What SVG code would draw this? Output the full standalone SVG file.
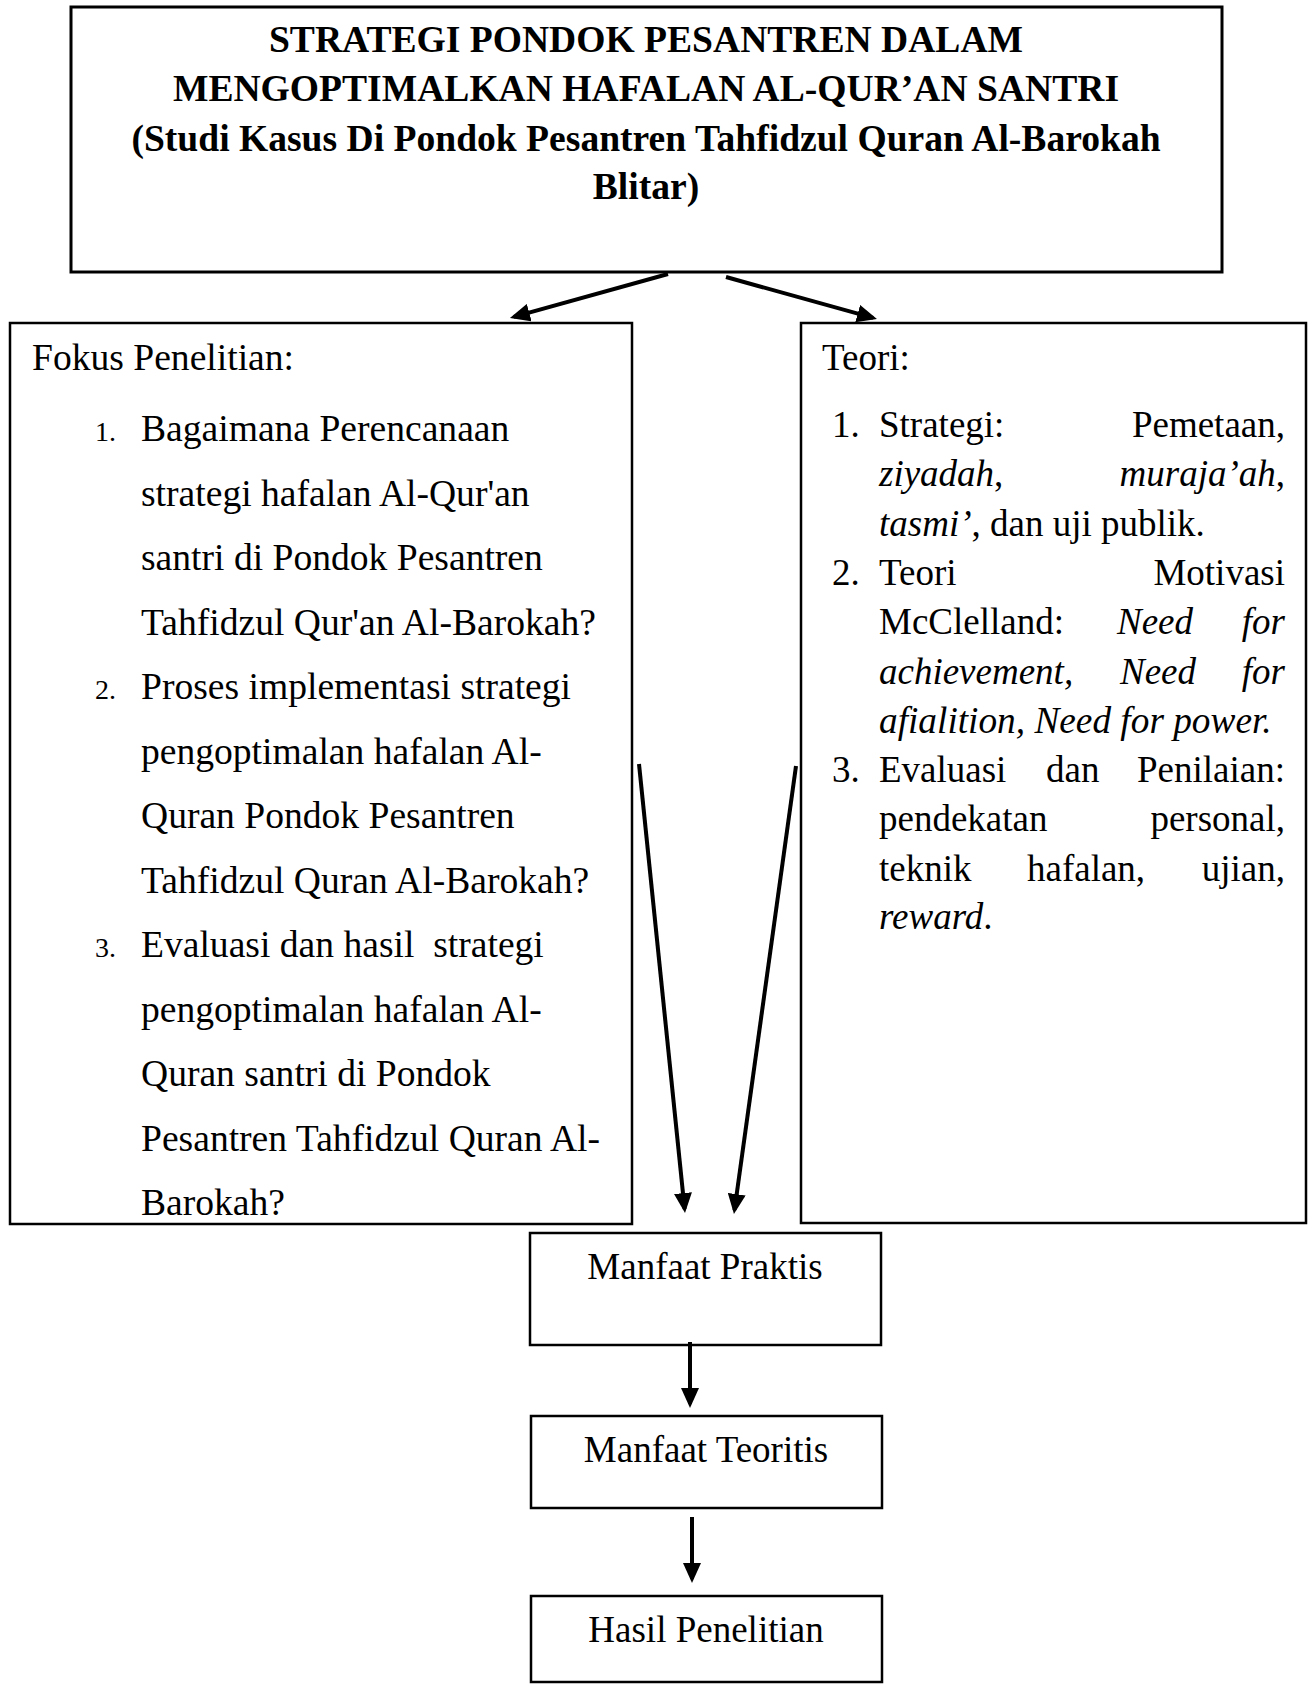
<svg xmlns="http://www.w3.org/2000/svg" width="1308" height="1686" viewBox="0 0 1308 1686">
<style>
.box{fill:#fff;stroke:#000;stroke-width:2.5}
.t{font-family:"Liberation Serif","Times New Roman",serif;font-size:37px;fill:#000}
.L{font-size:37.6px}
.b{font-weight:bold;font-size:37.6px}
.n{font-size:28px}
.i{font-style:italic}
.c{text-anchor:middle}
.e{text-anchor:end}
.con{stroke:#000;stroke-width:4;fill:none;marker-end:url(#ah)}
</style>
<defs>
<marker id="ah" markerUnits="userSpaceOnUse" viewBox="0 0 20 18" refX="16" refY="9" markerWidth="20" markerHeight="18" orient="auto">
<path d="M0,0 L20,9 L0,18 z" fill="#000"/>
</marker>
</defs>
<rect width="1308" height="1686" fill="#fff"/>
<g id="title">
<rect class="box" x="71" y="7" width="1151" height="265" style="stroke-width:3"/>
<text class="t b c" x="646" y="52">STRATEGI PONDOK PESANTREN DALAM</text>
<text class="t b c" x="646" y="101">MENGOPTIMALKAN HAFALAN AL-QUR’AN SANTRI</text>
<text class="t b c" x="646" y="151">(Studi Kasus Di Pondok Pesantren Tahfidzul Quran Al-Barokah</text>
<text class="t b c" x="646" y="199">Blitar)</text>
</g>
<g id="fokus">
<rect class="box" x="10" y="323" width="622" height="901"/>
<text class="t L" x="32" y="370">Fokus Penelitian:</text>
<text class="t n" x="95" y="441">1.</text>
<text class="t L" x="141" y="441">Bagaimana Perencanaan</text>
<text class="t L" x="141" y="505.5">strategi hafalan Al-Qur'an</text>
<text class="t L" x="141" y="570">santri di Pondok Pesantren</text>
<text class="t L" x="141" y="634.5">Tahfidzul Qur'an Al-Barokah?</text>
<text class="t n" x="95" y="699">2.</text>
<text class="t L" x="141" y="699">Proses implementasi strategi</text>
<text class="t L" x="141" y="763.5">pengoptimalan hafalan Al-</text>
<text class="t L" x="141" y="828">Quran Pondok Pesantren</text>
<text class="t L" x="141" y="892.5">Tahfidzul Quran Al-Barokah?</text>
<text class="t n" x="95" y="957">3.</text>
<text class="t L" x="141" y="957" xml:space="preserve">Evaluasi dan hasil  strategi</text>
<text class="t L" x="141" y="1021.5">pengoptimalan hafalan Al-</text>
<text class="t L" x="141" y="1086">Quran santri di Pondok</text>
<text class="t L" x="141" y="1150.5">Pesantren Tahfidzul Quran Al-</text>
<text class="t L" x="141" y="1215">Barokah?</text>
</g>
<g id="teori">
<rect class="box" x="801" y="323" width="505" height="900"/>
<text class="t" x="822" y="370">Teori:</text>
<text class="t" x="832" y="437">1.</text>
<text class="t" x="879" y="437">Strategi:</text>
<text class="t e" x="1285" y="437">Pemetaan,</text>
<text class="t" x="879" y="486"><tspan class="i">ziyadah</tspan>,</text>
<text class="t e" x="1285" y="486"><tspan class="i">muraja’ah</tspan>,</text>
<text class="t" x="879" y="535.5"><tspan class="i">tasmi’</tspan>, dan uji publik.</text>
<text class="t" x="832" y="585">2.</text>
<text class="t" x="879" y="585">Teori</text>
<text class="t e" x="1285" y="585">Motivasi</text>
<text class="t" x="879" y="634">McClelland:</text>
<text class="t i" x="1117" y="634">Need</text>
<text class="t i e" x="1285" y="634">for</text>
<text class="t i" x="879" y="683.5">achievement,</text>
<text class="t i" x="1120" y="683.5">Need</text>
<text class="t i e" x="1285" y="683.5">for</text>
<text class="t i" x="879" y="733" style="font-size:37.3px">afialition, Need for power.</text>
<text class="t" x="832" y="782">3.</text>
<text class="t" x="879" y="782">Evaluasi</text>
<text class="t" x="1046" y="782">dan</text>
<text class="t e" x="1285" y="782">Penilaian:</text>
<text class="t" x="879" y="831">pendekatan</text>
<text class="t e" x="1285" y="831">personal,</text>
<text class="t" x="879" y="880.5">teknik</text>
<text class="t" x="1027" y="880.5">hafalan,</text>
<text class="t e" x="1285" y="880.5">ujian,</text>
<text class="t" x="879" y="929"><tspan class="i">reward</tspan>.</text>
</g>
<g id="praktis">
<rect class="box" x="530" y="1233" width="351" height="112"/>
<text class="t c" x="705" y="1279">Manfaat Praktis</text>
</g>
<g id="teoritis">
<rect class="box" x="531" y="1416" width="351" height="92"/>
<text class="t c" x="706" y="1462">Manfaat Teoritis</text>
</g>
<g id="hasil">
<rect class="box" x="531" y="1596" width="351" height="86"/>
<text class="t c" x="706" y="1642">Hasil Penelitian</text>
</g>
<g id="connectors">
<line class="con" x1="668" y1="274" x2="513.8" y2="316.9"/>
<line class="con" x1="726" y1="277" x2="873.1" y2="317.9"/>
<line class="con" x1="639" y1="764" x2="684.6" y2="1209"/>
<line class="con" x1="796" y1="766" x2="734.5" y2="1210"/>
<line class="con" x1="690" y1="1342" x2="690" y2="1404"/>
<line class="con" x1="692" y1="1517" x2="692" y2="1579"/>
</g>
</svg>
